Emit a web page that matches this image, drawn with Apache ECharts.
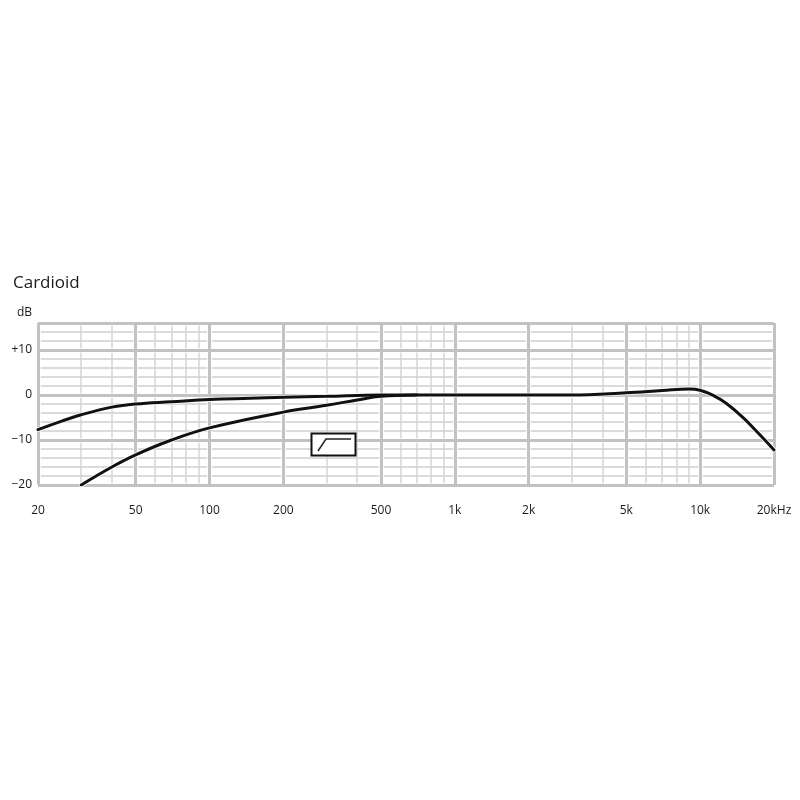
<!DOCTYPE html>
<html>
<head>
<meta charset="utf-8">
<title>Cardioid</title>
<script src="https://cdn.jsdelivr.net/npm/echarts@6/dist/echarts.min.js"></script>
<style>
html, body { margin: 0; padding: 0; background: #fff; }
#main { width: 800px; height: 800px; }
</style>
</head>
<body>
<div id="main"></div>
<script>
// frequency response
var upperFreq = [20, 25, 30, 40, 50, 70, 100, 200, 300, 500, 700, 1000, 3000, 5000, 7000, 9000, 10000, 11300, 12800, 15000, 17200, 20000];
var upperDb = [-7.7, -5.8, -4.4, -2.7, -2.0, -1.5, -1.0, -0.5, -0.3, 0, 0, 0, 0, 0.5, 1.0, 1.35, 1.05, -0.1, -1.9, -5.1, -8.4, -12.2];
var lowerFreq = [30, 40, 50, 70, 100, 200, 300, 400, 500, 700];
var lowerDb = [-20, -16, -13.3, -10, -7.3, -3.8, -2.3, -1.1, -0.3, 0];

var freqLabels = [20, 50, 100, 200, 500, 1000, 2000, 5000, 10000, 20000];
var freqMajor = [20, 50, 100, 200, 500, 1000, 2000, 5000, 10000, 20000];
var freqMinor = [30, 40, 60, 70, 80, 90, 300, 400, 600, 700, 800, 900, 3000, 4000, 6000, 7000, 8000, 9000];
var dbMajor = [-20, -10, 0, 10, 16];
var dbLabels = [-20, -10, 0, 10];

function pairs(xs, ys) {
    return xs.map(function (x, i) { return [x, ys[i]]; });
}

function freqText(v) {
    v = Math.round(v);
    if (v === 20000) return '20kHz';
    return v >= 1000 ? (v / 1000) + 'k' : String(v);
}

function dbText(v) {
    if (dbLabels.indexOf(v) < 0) return '';
    if (v > 0) return '+' + v;
    return v < 0 ? '\u2212' + (-v) : '0';
}

function gridLines(name, xs, ys, color, width, z) {
    var lines = xs.map(function (x) { return { xAxis: x }; })
        .concat(ys.map(function (y) { return { yAxis: y }; }));
    return {
        name: name,
        type: 'line',
        data: [],
        z: z,
        silent: true,
        markLine: {
            silent: true,
            animation: false,
            symbol: 'none',
            label: { show: false },
            lineStyle: { color: color, width: width, type: 'solid' },
            data: lines
        }
    };
}

function curve(name, xs, ys, color, width, z) {
    return {
        name: name,
        type: 'line',
        data: pairs(xs, ys),
        z: z,
        smooth: 0.4,
        showSymbol: false,
        silent: true,
        lineStyle: { color: color, width: width, cap: 'round' }
    };
}

var myChart = echarts.init(document.getElementById('main'), null, { renderer: 'canvas' });
var labelFont = '"Open Sans", "Noto Sans", sans-serif';

var option = {
    backgroundColor: '#fff',
    animation: false,
    title: {
        text: 'Cardioid',
        left: 8,
        top: 270,
        textStyle: { fontFamily: labelFont, fontSize: 17, fontWeight: 'normal', color: '#1a1a1a' }
    },
    grid: { left: 38, right: 26, top: 323, bottom: 315, containLabel: false },
    xAxis: {
        type: 'log',
        logBase: 10,
        min: 20,
        max: 20000,
        axisLine: { show: false },
        axisTick: { show: false },
        splitLine: { show: false },
        minorTick: { show: false },
        minorSplitLine: { show: false },
        axisLabel: {
            customValues: freqLabels,
            formatter: freqText,
            margin: 20,
            fontFamily: labelFont,
            fontSize: 12,
            color: '#1a1a1a',
            showMinLabel: true,
            showMaxLabel: true,
            hideOverlap: false
        }
    },
    yAxis: {
        type: 'value',
        name: 'dB',
        nameLocation: 'end',
        nameGap: 4,
        nameTextStyle: { fontFamily: labelFont, fontSize: 12, color: '#1a1a1a', align: 'right', padding: [0, 6, 0, 0] },
        min: -20,
        max: 16,
        interval: 2,
        axisLine: { show: false },
        axisTick: { show: false },
        axisLabel: {
            formatter: dbText,
            margin: 6,
            fontFamily: labelFont,
            fontSize: 12,
            color: '#1a1a1a'
        },
        splitLine: { show: true, lineStyle: { color: '#cfcfcf', width: 1.5 } }
    },
    series: [
        gridLines('minor', freqMinor, [], '#d4d4d4', 1.5, 1),
        gridLines('majorHalo', freqMajor, dbMajor, '#fff', 4.5, 2),
        gridLines('major', freqMajor, dbMajor, '#c2c2c2', 3, 3),
        curve('upperHalo', upperFreq, upperDb, '#fff', 4.5, 8),
        curve('lowerHalo', lowerFreq, lowerDb, '#fff', 4.5, 8),
        curve('upper', upperFreq, upperDb, '#111', 3, 10),
        curve('lower', lowerFreq, lowerDb, '#111', 3, 10)
    ],
    graphic: [
        { type: 'rect', z: 20, shape: { x: 311.5, y: 433.5, width: 44, height: 22 },
          style: { fill: '#fff', stroke: '#111', lineWidth: 2 } },
        { type: 'polyline', z: 21, shape: { points: [[318, 451], [326, 439], [351, 439]] },
          style: { fill: null, stroke: '#222', lineWidth: 1.5 } }
    ]
};

myChart.setOption(option);
window.addEventListener('resize', function () {
    myChart.resize();
});
</script>
</body>
</html>
